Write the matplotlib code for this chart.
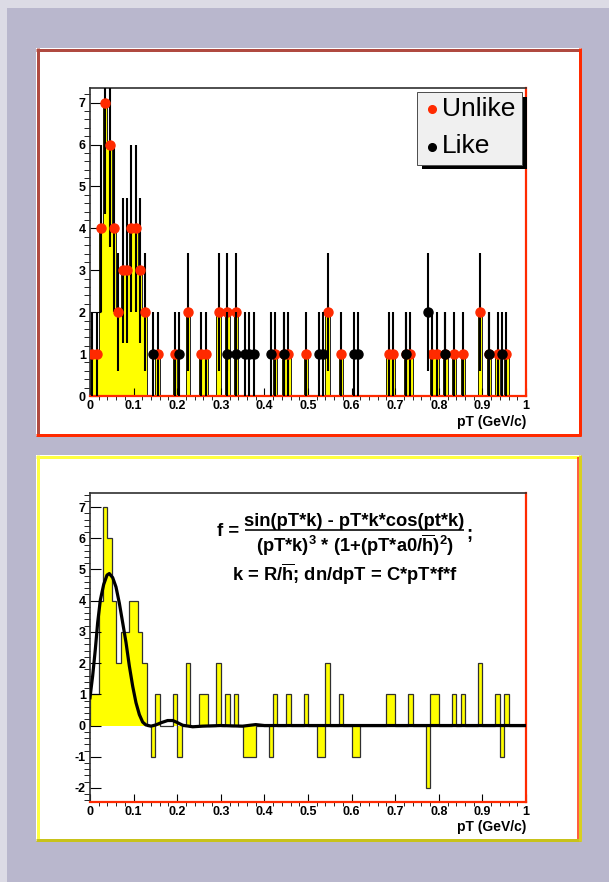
import numpy as np
import matplotlib
matplotlib.use("Agg")
import matplotlib.pyplot as plt
from matplotlib.patches import Rectangle
from matplotlib.lines import Line2D
from matplotlib.ticker import MultipleLocator

plt.rcParams['font.family'] = ['Liberation Sans', 'DejaVu Sans']
plt.rcParams['mathtext.fontset'] = 'custom'
plt.rcParams['mathtext.rm'] = 'Liberation Sans:bold'
plt.rcParams['mathtext.it'] = 'Liberation Sans:bold:italic'
plt.rcParams['mathtext.bf'] = 'Liberation Sans:bold'

# pT histograms, 100 bins of 10 MeV/c from 0 to 1 GeV/c
n_bins = 100
edges = np.linspace(0.0, 1.0, n_bins + 1)
centers = edges[:-1] + 0.005

# unlike-sign pairs (bin index, entries)
unlike_bins = [0, 1, 2, 3, 4, 5, 6, 7, 8, 9, 10, 11, 12,
               15, 19, 22, 25, 26, 29, 31, 33,
               42, 44, 45, 49, 54, 57, 68, 69, 72, 73,
               78, 79, 81, 83, 85, 89, 91, 93, 95]
unlike_counts = [1, 1, 4, 7, 6, 4, 2, 3, 3, 4, 4, 3, 2,
                 1, 1, 2, 1, 1, 2, 2, 2,
                 1, 1, 1, 1, 2, 1, 1, 1, 1, 1,
                 1, 1, 1, 1, 1, 2, 1, 1, 1]

# like-sign pairs (bin index, entries)
like_bins = [14, 20, 31, 33, 35, 36, 37, 41, 44, 52, 53, 60, 61, 72, 77, 81, 91, 94]
like_counts = [1, 1, 1, 1, 1, 1, 1, 1, 1, 1, 1, 1, 1, 1, 2, 1, 1, 1]

# fitted dn/dpT = C*pT*f*f
fit_pt = [0.0, 0.0023, 0.0061, 0.0122, 0.0176, 0.0237, 0.0314, 0.039, 0.0443,
          0.052, 0.0596, 0.0673, 0.0749, 0.0826, 0.0902, 0.0979, 0.1055, 0.1132,
          0.1208, 0.128, 0.140, 0.151, 0.163, 0.178, 0.190, 0.201, 0.2125,
          0.2355, 0.258, 0.30, 0.35, 0.38, 0.40, 0.50, 0.60, 0.80, 1.0]
fit_dn = [0.89, 1.16, 1.59, 2.44, 3.30, 4.02, 4.52, 4.82, 4.87,
          4.74, 4.44, 3.92, 3.30, 2.66, 1.91, 1.26, 0.73, 0.35,
          0.11, 0.02, -0.02, 0.02, 0.09, 0.16, 0.16, 0.09, 0.01,
          -0.04, -0.02, 0.0, -0.02, 0.03, 0.0, 0.0, 0.0, 0.0, 0.0]

unlike = np.zeros(n_bins)
unlike[unlike_bins] = unlike_counts
like = np.zeros(n_bins)
like[like_bins] = like_counts
diff = unlike - like

W, H = 609, 882
RED = '#ff2a00'
YEL = '#ffff00'

fig = plt.figure(figsize=(W / 100, H / 100), dpi=100, facecolor='#b9b7cd')


def fx(px):
    return px / W


def fy(py):
    return 1 - py / H


def pw(px):
    # pixels -> points
    return px * 72 / 100


def hline(x0, x1, y, color, lw, z=1):
    fig.add_artist(Line2D([fx(x0), fx(x1)], [fy(y), fy(y)], color=color,
                          lw=pw(lw), transform=fig.transFigure, zorder=z,
                          solid_capstyle='butt'))


def vline(x, y0, y1, color, lw, z=1):
    fig.add_artist(Line2D([fx(x), fx(x)], [fy(y0), fy(y1)], color=color,
                          lw=pw(lw), transform=fig.transFigure, zorder=z,
                          solid_capstyle='butt'))


def box(x0, y0, x1, y1, fc, ec='none', lw=0, z=0):
    fig.add_artist(Rectangle((fx(x0), fy(y1)), (x1 - x0) / W, (y1 - y0) / H,
                             facecolor=fc, edgecolor=ec, lw=pw(lw),
                             transform=fig.transFigure, zorder=z))


# canvas bevel
box(0, 0, W, 8, '#dcdbe5')
box(0, 0, 7, H, '#dcdbe5')

# pads
box(36, 48, 581, 436, 'white')
hline(36, 581, 49.5, '#b04a40', 3)
vline(37.5, 48, 436, '#b04a40', 3)
hline(36, 581, 434.5, RED, 3)
vline(579.5, 48, 436, RED, 3)

box(36, 455, 581, 841, 'white')
hline(36, 581, 456.5, '#ffff40', 3)
vline(37.5, 455, 841, '#ffff40', 3)
hline(36, 581, 839.5, '#c8c21a', 3)
vline(579.5, 455, 841, '#d8d020', 3)
vline(577.5, 457, 839, RED, 1.5)


def make_axes(top, bottom):
    ax = fig.add_axes([fx(90), fy(bottom), (526 - 90) / W, (bottom - top) / H])
    ax.set_facecolor('white')
    ax.set_xlim(0, 1)
    ax.xaxis.set_major_locator(MultipleLocator(0.1))
    ax.xaxis.set_minor_locator(MultipleLocator(0.02))
    ax.yaxis.set_major_locator(MultipleLocator(1))
    ax.yaxis.set_minor_locator(MultipleLocator(0.2))
    for s in ['left', 'top']:
        ax.spines[s].set_color('#303030')
        ax.spines[s].set_linewidth(1.2)
    for s in ['right', 'bottom']:
        ax.spines[s].set_color(RED)
        ax.spines[s].set_linewidth(1.6)
    ax.tick_params(direction='in', top=False, right=False, width=0.8,
                   labelsize=9, pad=3)
    ax.tick_params(axis='y', which='major', length=8)
    ax.tick_params(axis='y', which='minor', length=4)
    ax.tick_params(axis='x', which='major', length=6)
    ax.tick_params(axis='x', which='minor', length=3)
    xt = np.round(np.arange(0, 1.01, 0.1), 1)
    ax.set_xticks(xt)
    ax.set_xticklabels(['0' if v == 0 else ('1' if v == 1 else f'{v:g}') for v in xt])
    for lab in ax.get_xticklabels():
        lab.set_fontweight('bold')
    return ax


def bold_yticks(ax):
    ax.set_yticklabels([str(int(round(v))) for v in ax.get_yticks()])
    for lab in ax.get_yticklabels():
        lab.set_fontweight('bold')


# ---- top pad: unlike / like pT spectra
ax1 = make_axes(88, 396)
ax1.set_ylim(0, 7.35)
ax1.stairs(unlike, edges, fill=True, color=YEL, zorder=1)
ax1.stairs(unlike, edges, color='black', lw=0.6, zorder=1.5)
s = unlike > 0
ax1.errorbar(centers[s], unlike[s], yerr=np.sqrt(unlike[s]), fmt='o', ms=6.5,
             mfc=RED, mec=RED, ecolor='black', elinewidth=1.5, capsize=0,
             zorder=3)
s = like > 0
ax1.errorbar(centers[s], like[s], yerr=np.sqrt(like[s]), fmt='o', ms=6.5,
             mfc='black', mec='black', ecolor='black', elinewidth=1.5,
             capsize=0, zorder=4)
bold_yticks(ax1)

# legend
box(421.7, 96.7, 526.7, 169.3, 'black', z=5)
box(416.7, 91.7, 521.7, 165, '#f0f0f0', ec='#505050', lw=1, z=6)
fig.add_artist(Line2D([fx(431.7)], [fy(109)], marker='o', ms=5.5, color=RED,
                      transform=fig.transFigure, zorder=7))
fig.add_artist(Line2D([fx(431.7)], [fy(147)], marker='o', ms=5.5, color='black',
                      transform=fig.transFigure, zorder=7))
fig.text(fx(442), fy(108.5), 'Unlike', fontsize=19, ha='left', va='center', zorder=8)
fig.text(fx(442), fy(146), 'Like', fontsize=19, ha='left', va='center', zorder=8)

fig.text(fx(526), fy(422), 'pT (GeV/c)', fontsize=10, fontweight='bold',
         ha='right', va='center')

# ---- bottom pad: unlike - like with fit
ax2 = make_axes(493, 802)
ax2.set_ylim(-2.45, 7.45)
ax2.stairs(diff, edges, baseline=0, fill=True, color=YEL, zorder=1)
ax2.stairs(diff, edges, baseline=0, color='#303030', lw=0.9, zorder=1.5)
ax2.plot(fit_pt, fit_dn, color='black', lw=2.3, zorder=3, solid_joinstyle='round')
bold_yticks(ax2)

fig.text(fx(526), fy(827), 'pT (GeV/c)', fontsize=10, fontweight='bold',
         ha='right', va='center')

# formula
fs = 13.2
fig.text(fx(239), fy(531.5), 'f =', fontsize=fs, fontweight='bold', ha='right', va='center')
fig.text(fx(354.5), fy(521.5), 'sin(pT*k) - pT*k*cos(pt*k)', fontsize=fs,
         fontweight='bold', ha='center', va='center')
hline(245, 464, 530, 'black', 1.6, z=5)
fig.text(fx(466), fy(535), ';', fontsize=fs, fontweight='bold', ha='left', va='center')
fig.text(fx(354.5), fy(545.5),
         r'(pT*k)$^{3}$ * (1+(pT*a0/$\overline{\mathrm{h}}$)$^{2}$)',
         fontsize=fs, fontweight='bold', ha='center', va='center')
fig.text(fx(345), fy(574), r'k = R/$\overline{\mathrm{h}}$; dn/dpT = C*pT*f*f',
         fontsize=fs, fontweight='bold', ha='center', va='center')

fig.savefig('out.png', dpi=100, facecolor=fig.get_facecolor())
